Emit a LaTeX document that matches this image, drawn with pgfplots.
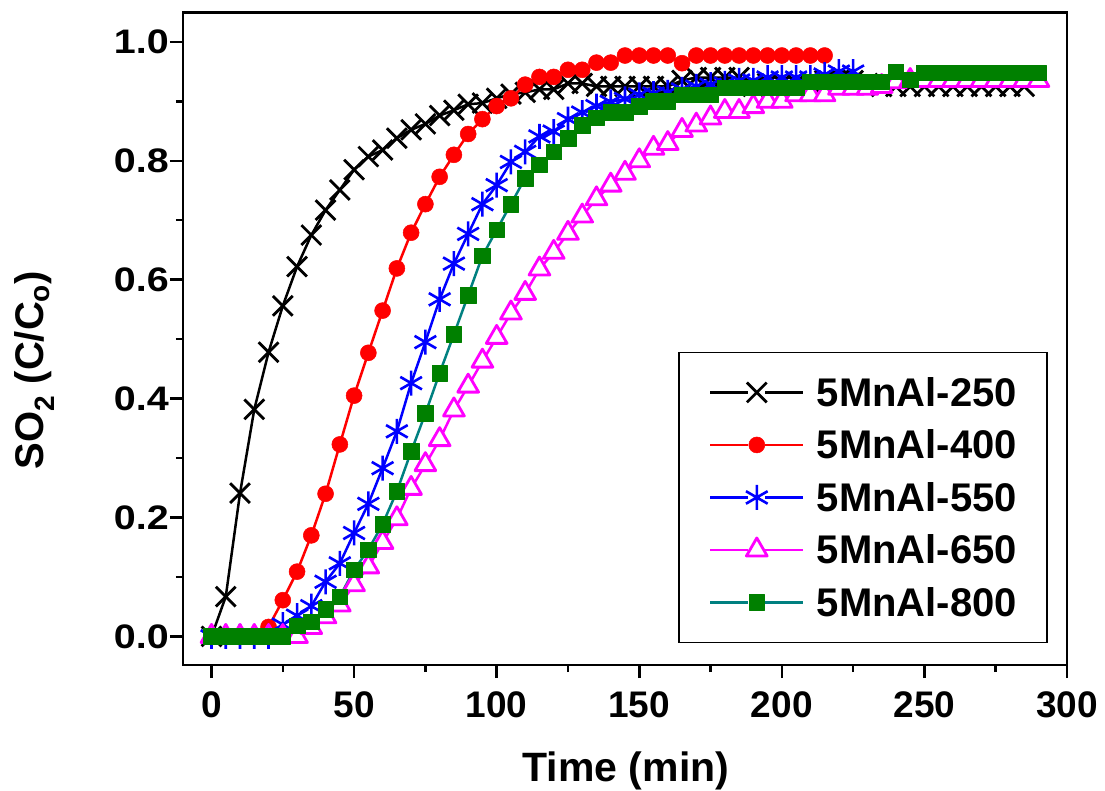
\documentclass[border=0pt]{standalone}
\usepackage{pgfplots}
\pgfplotsset{compat=1.18}
\usepackage{fontspec}
\setmainfont{Liberation Sans}
\usepackage{graphicx}
\definecolor{cred}{RGB}{255,0,0}
\definecolor{cblue}{RGB}{0,0,255}
\definecolor{cmag}{RGB}{255,0,255}
\definecolor{cgreen}{RGB}{0,128,0}
\definecolor{cteal}{RGB}{0,128,128}
\begin{document}
\begin{tikzpicture}
\begin{axis}[
  scale only axis, width=884pt, height=652.3pt,
  xmin=-10, xmax=300, ymin=-0.048, ymax=1.049,
  xtick={0,50,100,150,200,250,300},
  ytick={0,0.2,0.4,0.6,0.8,1.0},
  minor x tick num=1, minor y tick num=1,
  tick align=outside, tick pos=left,
  major tick length=13pt, minor tick length=7pt,
  axis line style={line width=2.5pt},
  tick style={line width=2.5pt, black},
  /pgf/number format/assume math mode=true,
  xticklabel style={font=\fontsize{37}{40}\selectfont\bfseries, inner sep=0pt, anchor=north, text height=26.5pt, text depth=0pt, yshift=-13pt},
  yticklabel style={font=\fontsize{34}{36}\selectfont\bfseries, inner sep=0pt, anchor=east, text height=24pt, text depth=0pt, xshift=-1pt},
  yticklabel={\scalebox{1.16}[1]{\pgfmathprintnumber[fixed,fixed zerofill,precision=1]{\tick}}},
  xlabel={Time (min)},
  ylabel={SO\textsubscript{2} (C/C\textsubscript{o})},
  xlabel style={font=\fontsize{41}{44}\selectfont\bfseries, at={(axis description cs:0.501,-0.179)}, anchor=base},
  ylabel style={font=\fontsize{40}{44}\selectfont\bfseries, at={(axis description cs:-0.158,0.452)}, anchor=base},
  every axis plot/.append style={line width=2.5pt, line join=round},
  legend image code/.code={
    \draw[#1,mark=none] (0pt,0pt) -- (38pt,0pt);
    \draw[#1,mark=none] (55pt,0pt) -- (93pt,0pt);
    \draw[#1,only marks] plot coordinates {(46.5pt,0pt)};
    \path (105.3pt,0pt);
  },
  legend style={
    at={(0.5603,0.4803)}, anchor=north west,
    draw=black, line width=1.5pt, fill=white,
    inner xsep=30pt, inner ysep=26pt,
    row sep=24.5pt,
    cells={anchor=west},
    nodes={inner sep=0pt, text height=28pt, text depth=0pt, font=\fontsize{40}{44}\selectfont\bfseries},
  },
]
% 5MnAl-250
\addplot[black, mark=x, mark size=14pt, mark options={solid, line width=2.8pt}] coordinates {
(0,0) (5,0.067) (10,0.241) (15,0.382) (20,0.478) (25,0.556) (30,0.622) (35,0.675) (40,0.717) (45,0.751)
(50,0.785) (55,0.807) (60,0.818) (65,0.838) (70,0.852) (75,0.862) (80,0.876) (85,0.885) (90,0.895) (95,0.897)
(100,0.905) (105,0.912) (110,0.915) (115,0.92) (120,0.92) (125,0.93) (130,0.93) (135,0.925) (140,0.925) (145,0.925)
(150,0.925) (155,0.925) (160,0.925) (165,0.935) (170,0.94) (175,0.94) (180,0.94) (185,0.94) (190,0.925) (195,0.93)
(200,0.93) (205,0.93) (210,0.93) (215,0.935) (220,0.935) (225,0.935) (230,0.93) (235,0.925) (240,0.925) (245,0.925)
(250,0.925) (255,0.925) (260,0.925) (265,0.925) (270,0.925) (275,0.925) (280,0.925) (285,0.925)
};
\addlegendentry{5MnAl-250}
% 5MnAl-400
\addplot[cred, mark=*, mark size=8pt, mark options={solid, line width=0.5pt}] coordinates {
(0,0) (5,0) (10,0) (15,0) (20,0.016) (25,0.061) (30,0.109) (35,0.170) (40,0.240) (45,0.323)
(50,0.405) (55,0.477) (60,0.548) (65,0.619) (70,0.679) (75,0.727) (80,0.773) (85,0.810) (90,0.845) (95,0.870)
(100,0.892) (105,0.905) (110,0.928) (115,0.941) (120,0.941) (125,0.953) (130,0.953) (135,0.965) (140,0.965) (145,0.977)
(150,0.977) (155,0.977) (160,0.977) (165,0.964) (170,0.977) (175,0.977) (180,0.977) (185,0.977) (190,0.977) (195,0.977)
(200,0.977) (205,0.977) (210,0.977) (215,0.977)
};
\addlegendentry{5MnAl-400}
% 5MnAl-550
\addplot[cblue, mark=asterisk, mark size=12.5pt, mark options={solid, line width=2.6pt}] coordinates {
(0,0) (5,0) (10,0) (15,0) (20,0) (25,0.02) (30,0.035) (35,0.051) (40,0.092) (45,0.123)
(50,0.174) (55,0.223) (60,0.283) (65,0.345) (70,0.426) (75,0.495) (80,0.567) (85,0.627) (90,0.677) (95,0.727)
(100,0.759) (105,0.798) (110,0.815) (115,0.841) (120,0.849) (125,0.870) (130,0.881) (135,0.892) (140,0.899) (145,0.904)
(150,0.911) (155,0.913) (160,0.915) (165,0.92) (170,0.925) (175,0.928) (180,0.93) (185,0.935) (190,0.935) (195,0.94)
(200,0.94) (205,0.94) (210,0.94) (215,0.945) (220,0.95) (225,0.95)
};
\addlegendentry{5MnAl-550}
% 5MnAl-650
\addplot[cmag, mark=triangle*, mark size=12pt, mark options={solid, fill=white, line width=2.8pt}] coordinates {
(0,0) (5,0) (10,0) (15,0) (20,0) (25,0) (30,0) (35,0.015) (40,0.033) (45,0.053)
(50,0.087) (55,0.117) (60,0.158) (65,0.198) (70,0.249) (75,0.289) (80,0.331) (85,0.381) (90,0.421) (95,0.463)
(100,0.503) (105,0.544) (110,0.577) (115,0.618) (120,0.646) (125,0.678) (130,0.707) (135,0.736) (140,0.759) (145,0.779)
(150,0.800) (155,0.821) (160,0.829) (165,0.851) (170,0.860) (175,0.872) (180,0.883) (185,0.883) (190,0.891) (195,0.9)
(200,0.9) (205,0.911) (210,0.911) (215,0.911) (220,0.922) (225,0.922) (230,0.922) (235,0.925) (240,0.933) (245,0.935)
(250,0.935) (255,0.935) (260,0.935) (265,0.935) (270,0.935) (275,0.935) (280,0.935) (285,0.935) (290,0.935)
};
\addlegendentry{5MnAl-650}
% 5MnAl-800
\addplot[cteal, mark=square*, mark size=7.8pt, mark options={solid, draw=cgreen, fill=cgreen, line width=0.5pt}] coordinates {
(0,0) (5,0) (10,0) (15,0) (20,0) (25,0) (30,0.018) (35,0.025) (40,0.046) (45,0.067)
(50,0.112) (55,0.146) (60,0.189) (65,0.244) (70,0.311) (75,0.375) (80,0.443) (85,0.508) (90,0.574) (95,0.640)
(100,0.684) (105,0.727) (110,0.771) (115,0.793) (120,0.815) (125,0.838) (130,0.860) (135,0.872) (140,0.882) (145,0.882)
(150,0.892) (155,0.9) (160,0.9) (165,0.911) (170,0.911) (175,0.911) (180,0.923) (185,0.923) (190,0.923) (195,0.923)
(200,0.923) (205,0.923) (210,0.933) (215,0.933) (220,0.933) (225,0.933) (230,0.933) (235,0.933) (240,0.95) (245,0.936)
(250,0.948) (255,0.948) (260,0.948) (265,0.948) (270,0.948) (275,0.948) (280,0.948) (285,0.948) (290,0.948)
};
\addlegendentry{5MnAl-800}
\end{axis}
\pgfresetboundingbox
\path[use as bounding box] (-183pt,-125pt) rectangle (922pt,665pt);
\end{tikzpicture}
\end{document}
